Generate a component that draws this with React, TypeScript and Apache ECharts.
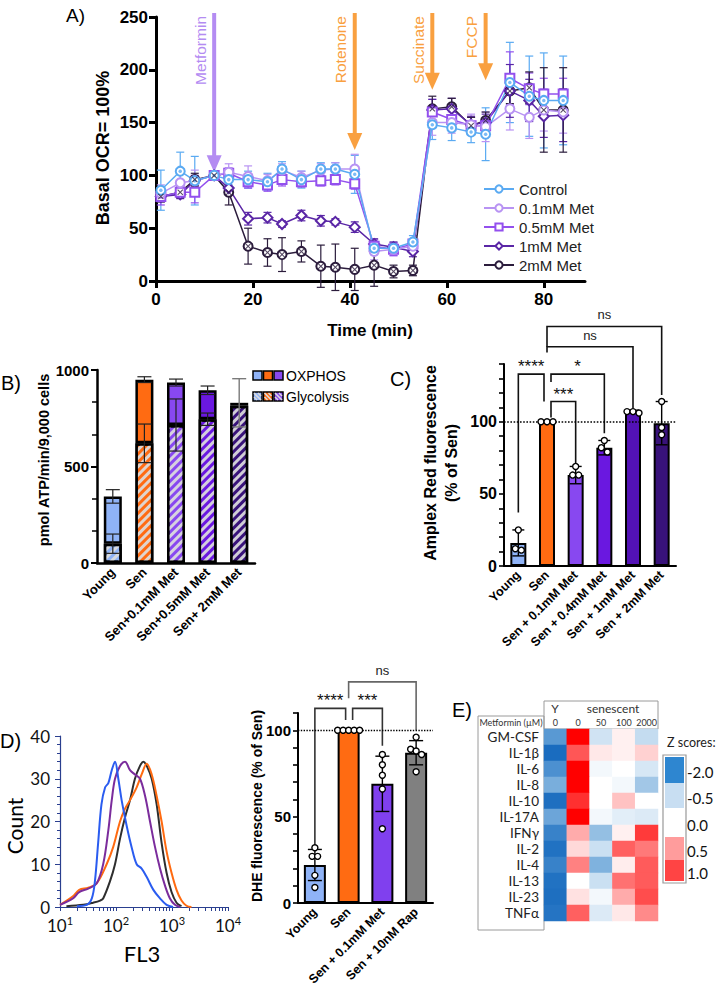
import React, { useEffect, useRef } from "react";
import * as echarts from "echarts";

const BOLD = "'Liberation Sans', Arial, Helvetica, sans-serif";
const CAL = "Lato, 'Open Sans', 'DejaVu Sans', sans-serif";

// ---------------- Panel A ----------------
const timeMin = [1, 5, 8, 12, 15, 19, 23, 26, 30, 34, 37, 41, 45, 49, 53, 57, 61, 65, 68, 73, 77, 80, 84];
const ocrNames = ["Control", "0.1mM Met", "0.5mM Met", "1mM Met", "2mM Met"];
const ocrControl = [86, 104, 95, 100, 96, 96, 94, 106, 96, 106, 106, 101, 31, 31, 37, 148, 145, 141, 139, 188, 175, 171, 171];
const ocrMet01 = [83, 93, 95, 100, 103, 99, 95, 105, 98, 105, 106, 106, 28, 30, 33, 150, 150, 148, 146, 163, 155, 162, 160];
const ocrMet05 = [80, 84, 84, 100, 102, 94, 91, 96, 94, 95, 96, 92, 33, 30, 35, 160, 153, 147, 147, 192, 182, 177, 177];
const ocrMet1 = [80, 82, 95, 100, 88, 59, 60, 54, 62, 57, 56, 51, 35, 32, 28, 162, 163, 148, 150, 180, 171, 156, 157];
const ocrMet2 = [80, 84, 96, 100, 84, 33, 27, 25, 28, 14, 13, 11, 15, 9, 10, 163, 165, 147, 152, 180, 183, 162, 162];
const errControl = [19, 18, 23, 0, 5, 8, 8, 7, 8, 6, 6, 18, 6, 5, 6, 14, 12, 10, 25, 38, 38, 45, 42];
const errMet01 = [8, 10, 10, 0, 8, 10, 6, 6, 6, 6, 6, 14, 8, 6, 6, 12, 10, 10, 14, 20, 20, 20, 20];
const errMet05 = [8, 5, 10, 0, 5, 6, 6, 6, 5, 5, 5, 5, 6, 6, 5, 12, 10, 8, 8, 25, 15, 15, 15];
const errMet1 = [5, 4, 5, 0, 6, 6, 5, 3, 5, 5, 3, 5, 5, 5, 5, 10, 10, 8, 8, 25, 20, 20, 25];
const errMet2 = [5, 5, 6, 0, 12, 17, 13, 16, 10, 20, 22, 20, 20, 6, 5, 12, 8, 8, 8, 12, 15, 40, 40];
const timeTicks = [0, 20, 40, 60, 80];
const injectionLabels = ["Metformin", "Rotenone", "Succinate", "FCCP"];
const injectionTimes = [12, 41, 57, 68];
const injectionTipValues = [103, 124, 181, 190];

// ---------------- Panel B ----------------
const atpCategories = ["Young", "Sen", "Sen+0.1mM Met", "Sen+0.5mM Met", "Sen+ 2mM Met"];
const atpTotal = [345, 950, 935, 895, 830];
const atpGlyco = [100, 620, 715, 745, 815];
const atpTotalErr = [35, 15, 18, 22, 125];
const atpGlycoErr = [50, 100, 135, 32, 0];

// ---------------- Panel C ----------------
const amplexCategories = ["Young", "Sen", "Sen + 0.1mM Met", "Sen + 0.4mM Met", "Sen + 1mM Met", "Sen + 2mM Met"];
const amplexMean = [16, 100, 63, 82, 107, 99];
const amplexSd = [9, 0, 6, 5, 1, 15];
const amplexPoints = [[25, 12, 11], [100, 100, 100], [69, 63, 63], [87, 82, 79], [106, 107, 107], [114, 96, 91]];
const amplexBrackets = [
  { a: 0, b: 1, top: 133, endA: 37, endB: 114, label: "****" },
  { a: 1, b: 2, top: 114, endA: 103, endB: 71, label: "***" },
  { a: 1, b: 3, top: 133, endA: 127.5, endB: 92, label: "*" },
  { a: 1, b: 4, top: 152, endA: 148, endB: 109, label: "ns" },
  { a: 1, b: 5, top: 166, endA: 152, endB: 118.5, label: "ns" },
];

// ---------------- Panel D (histogram) ----------------
const histBlue = [[20, 0.2], [30, 0.5], [37, 2], [42, 6], [48, 15], [55, 24], [64, 28], [73, 29], [84, 32], [96, 34], [110, 30], [126, 25], [155, 19], [190, 14], [234, 10], [287, 9], [354, 7], [465, 4], [611, 2], [800, 0.5], [1047, 0]];
const histPurple = [[10, 0.5], [17, 2], [22, 3.5], [32, 4.3], [45, 5.5], [59, 10], [73, 18], [84, 25], [96, 30], [118, 33], [145, 34], [178, 32], [218, 31], [268, 30], [330, 26], [405, 20], [498, 14], [611, 9], [750, 5], [920, 2], [1130, 0.5], [1390, 0]];
const histOrange = [[10, 0.5], [17, 2.5], [22, 4], [32, 4.5], [45, 5.5], [68, 10], [89, 14], [118, 20], [145, 23], [178, 25], [234, 28], [287, 31], [354, 33.5], [434, 31], [532, 26], [652, 20], [800, 13], [981, 8], [1205, 4], [1478, 1.5], [1813, 0.3], [2226, 0]];
const histBlack = [[13, 0.2], [26, 0.5], [39, 1], [52, 1.5], [59, 2], [78, 6], [96, 10], [118, 16], [145, 21], [178, 25], [218, 30], [268, 33], [308, 34], [354, 33], [434, 30], [532, 24], [652, 15], [800, 8], [981, 3.5], [1205, 1], [1478, 0.2]];
const flDecades = [10, 100, 1000, 10000];
const flMinorTicks = [10, 20, 30, 40, 50, 60, 70, 80, 90, 100, 200, 300, 400, 500, 600, 700, 800, 900, 1000, 2000, 3000, 4000, 5000, 6000, 7000, 8000, 9000, 10000];

// ---------------- Panel D (bars) ----------------
const dheCategories = ["Young", "Sen", "Sen + 0.1mM Met", "Sen + 10nM Rap"];
const dheMean = [22, 100, 69, 87];
const dheSd = [9, 0, 16, 7];
const dhePoints = [[32, 27, 27, 16, 9], [100, 100, 100, 100, 100], [86, 80, 74, 66, 43], [96, 89, 88, 86, 76]];
const dheBrackets = [
  { a: 0, b: 1, top: 112.7, endA: 33.5, endB: 106, label: "****" },
  { a: 1, b: 2, top: 112.7, endA: 106, endB: 91, label: "***" },
  { a: 1, b: 3, top: 128, endA: 118.5, endB: 100, label: "ns" },
];

// ---------------- Panel E ----------------
const cytokines = ["GM-CSF", "IL-1β", "IL-6", "IL-8", "IL-10", "IL-17A", "IFNγ", "IL-2", "IL-4", "IL-13", "IL-23", "TNFα"];
const heatColumns = ["Y 0", "Sen 0", "Sen 50", "Sen 100", "Sen 2000"];
const metforminDoses = ["0", "0", "50", "100", "2000"];
const zScores = [
  [-1.3, 2.0, -0.4, 0.1, -0.5],
  [-2.0, 1.1, 0.15, 0.1, 0.3],
  [-1.4, 2.0, -0.1, 0.0, -0.35],
  [-1.05, 2.0, 0.0, -0.1, -0.75],
  [-1.95, 1.5, 0.0, 0.4, 0.0],
  [-1.15, 2.0, -0.1, -0.25, -0.3],
  [-1.6, 0.55, -0.85, 0.1, 1.4],
  [-1.9, 0.25, -0.45, 1.0, 0.85],
  [-1.6, 0.8, -1.0, 0.12, 1.05],
  [-1.9, 0.0, -0.45, 0.9, 1.05],
  [-1.95, 0.2, -0.1, 0.55, 1.2],
  [-1.85, 1.0, -0.3, 0.15, 0.75],
];
const zLegendLabels = ["-2.0", "-0.5", "0.0", "0.5", "1.0"];

// ---------------- colours ----------------
const ocrColors = ["#5aaaf2", "#b893f3", "#9350ee", "#5a26a6", "#2b1c3c"];
const groupColors = { young: "#8fb3f7", sen: "#ff6b12", m01: "#8848f0", m04: "#6a18e0", m1: "#5312b6", m2: "#38127a", rap: "#808080" };
const atpColors = [groupColors.young, groupColors.sen, groupColors.m01, groupColors.m04, groupColors.m2];
const amplexColors = [groupColors.young, groupColors.sen, groupColors.m01, groupColors.m04, groupColors.m1, groupColors.m2];
const dheColors = [groupColors.young, groupColors.sen, "#8040ee", groupColors.rap];
const heatScale = ["#1a6cbf", "#3f88cc", "#7fb2de", "#c4dcf0", "#ffffff", "#ffb3b3", "#ff6060", "#ff3030", "#ff0000"];
const zLegendColors = ["#2e86d0", "#c8def2", "#ffffff", "#ff9c9c", "#ff4444"];

const hatch = {
  symbol: "rect",
  symbolSize: 1,
  color: "rgba(222,222,222,0.92)",
  dashArrayX: [1, 0],
  dashArrayY: [3, 3],
  rotation: -Math.PI / 4,
};

function errorSeries(idx: number, data: number[][], color: string, cap: number, width: number, z: number) {
  return {
    type: "custom",
    xAxisIndex: idx,
    yAxisIndex: idx,
    z,
    silent: true,
    data,
    encode: { x: 0, y: [1, 2] },
    renderItem: (_p: any, api: any) => {
      const x = api.value(0);
      const hi = api.coord([x, api.value(2)]);
      const lo = api.coord([x, api.value(1)]);
      const st = { stroke: color, lineWidth: width };
      return {
        type: "group",
        children: [
          { type: "line", shape: { x1: hi[0], y1: hi[1], x2: lo[0], y2: lo[1] }, style: st },
          { type: "line", shape: { x1: hi[0] - cap, y1: hi[1], x2: hi[0] + cap, y2: hi[1] }, style: st },
          { type: "line", shape: { x1: lo[0] - cap, y1: lo[1], x2: lo[0] + cap, y2: lo[1] }, style: st },
        ],
      };
    },
  };
}

function dotSeries(idx: number, pts: number[][], spread: number, tol: number) {
  const data: number[][] = [];
  pts.forEach((vals, cat) => {
    const s = vals.slice().sort((a, b) => b - a);
    let i = 0;
    while (i < s.length) {
      let j = i;
      while (j + 1 < s.length && s[i] - s[j + 1] <= tol) j++;
      const k = j - i + 1;
      for (let m = i; m <= j; m++) data.push([cat, s[m], (m - i - (k - 1) / 2) * spread]);
      i = j + 1;
    }
  });
  return {
    type: "custom",
    xAxisIndex: idx,
    yAxisIndex: idx,
    z: 6,
    silent: true,
    data,
    encode: { x: 0, y: 1 },
    renderItem: (_p: any, api: any) => {
      const p = api.coord([api.value(0), api.value(1)]);
      return { type: "circle", shape: { cx: p[0] + api.value(2), cy: p[1], r: 3 }, style: { fill: "#fff", stroke: "#000", lineWidth: 1.4 } };
    },
  };
}

function buildOption() {
  const ocrData = [ocrControl, ocrMet01, ocrMet05, ocrMet1, ocrMet2];
  const ocrErr = [errControl, errMet01, errMet05, errMet1, errMet2];
  const symbols = ["emptyCircle", "emptyCircle", "emptyRect", "emptyDiamond", "emptyCircle"];
  const series: any[] = [];

  ocrData.forEach((vals, s) => {
    const d = vals.map((v, i) => [timeMin[i], v - ocrErr[s][i], v + ocrErr[s][i]]).filter((r) => r[2] > r[1]);
    series.push(errorSeries(0, d, ocrColors[s], 4, 1.2, 1));
  });
  [4, 3, 2, 1, 0].forEach((s) => {
    series.push({
      type: "line",
      name: ocrNames[s],
      xAxisIndex: 0,
      yAxisIndex: 0,
      z: 3,
      symbol: symbols[s],
      symbolSize: s === 3 ? 10 : 9,
      showAllSymbol: true,
      lineStyle: { color: ocrColors[s], width: 1.5 },
      itemStyle: { color: ocrColors[s], borderColor: ocrColors[s], borderWidth: 1.5 },
      data: ocrData[s].map((v, i) => [timeMin[i], v]),
    });
  });
  series.push({
    type: "scatter",
    xAxisIndex: 0,
    yAxisIndex: 0,
    z: 4,
    silent: true,
    symbol: "circle",
    symbolSize: 3.5,
    itemStyle: { color: ocrColors[0] },
    data: ocrControl.map((v, i) => [timeMin[i], v]),
  });
  series.push({
    type: "scatter",
    xAxisIndex: 0,
    yAxisIndex: 0,
    z: 4,
    silent: true,
    symbol: "path://M-3,-4L0,-1L3,-4L4,-3L1,0L4,3L3,4L0,1L-3,4L-4,3L-1,0L-4,-3Z",
    symbolSize: 6,
    itemStyle: { color: ocrColors[4] },
    data: ocrMet2.map((v, i) => [timeMin[i], v]),
  });

  series.push({
    type: "bar",
    name: "Glycolysis",
    xAxisIndex: 1,
    yAxisIndex: 1,
    stack: "atp",
    barWidth: 18,
    z: 2,
    data: atpGlyco.map((v, i) => ({ value: v, itemStyle: { color: atpColors[i], borderColor: "#000", borderWidth: 2.5, decal: hatch } })),
  });
  series.push({
    type: "bar",
    name: "OXPHOS",
    xAxisIndex: 1,
    yAxisIndex: 1,
    stack: "atp",
    barWidth: 18,
    z: 2,
    data: atpTotal.map((t, i) => ({ value: t - atpGlyco[i], itemStyle: { color: atpColors[i], borderColor: "#000", borderWidth: 2.5 } })),
  });
  series.push(errorSeries(1, atpTotal.map((t, i) => [i, t - atpTotalErr[i], t + atpTotalErr[i]]).slice(0, 4), "#222", 7, 1.2, 5));
  series.push(errorSeries(1, [[4, atpTotal[4] - atpTotalErr[4], atpTotal[4] + atpTotalErr[4]]], "#7a7a7a", 7, 1.4, 5));
  series.push(errorSeries(1, atpGlyco.map((g, i) => [i, g - atpGlycoErr[i], g + atpGlycoErr[i]]).filter((r) => r[2] > r[1]), "#222", 7, 1.2, 5));

  series.push({
    type: "bar",
    xAxisIndex: 2,
    yAxisIndex: 2,
    barWidth: 16,
    z: 2,
    data: amplexMean.map((v, i) => ({ value: v, itemStyle: { color: amplexColors[i], borderColor: "#000", borderWidth: 2 } })),
    markLine: {
      silent: true,
      symbol: ["none", "none"],
      label: { show: false },
      lineStyle: { type: "dotted", color: "#000", width: 1.6 },
      data: [{ yAxis: 100 }],
    },
  });
  series.push(errorSeries(2, amplexMean.map((m, i) => [i, m - amplexSd[i], m + amplexSd[i]]).filter((r) => r[2] > r[1]), "#000", 6, 1.4, 5));
  series.push(dotSeries(2, amplexPoints, 6, 4));

  const histSets = [histBlack, histOrange, histPurple, histBlue];
  const histColors = ["#2e2e2e", "#ff6a10", "#7b2c9c", "#2a5cf0"];
  histSets.forEach((d, i) => {
    series.push({
      type: "line",
      xAxisIndex: 3,
      yAxisIndex: 3,
      showSymbol: false,
      smooth: 0.35,
      z: 3,
      lineStyle: { color: histColors[i], width: 2 },
      data: d,
    });
  });

  series.push({
    type: "bar",
    xAxisIndex: 4,
    yAxisIndex: 4,
    barWidth: 22,
    z: 2,
    data: dheMean.map((v, i) => ({ value: v, itemStyle: { color: dheColors[i], borderColor: "#000", borderWidth: 2 } })),
    markLine: {
      silent: true,
      symbol: ["none", "none"],
      label: { show: false },
      lineStyle: { type: "dotted", color: "#000", width: 1.4 },
      data: [{ yAxis: 100 }],
    },
  });
  series.push(errorSeries(4, dheMean.map((m, i) => [i, m - dheSd[i], m + dheSd[i]]).filter((r) => r[2] > r[1]), "#000", 7, 1.4, 5));
  series.push(dotSeries(4, dhePoints, 5.5, 4));

  const heatData: number[][] = [];
  zScores.forEach((row, r) => row.forEach((v, c) => heatData.push([c, r, v])));
  const heatIndex = series.length;
  series.push({ type: "heatmap", xAxisIndex: 5, yAxisIndex: 5, data: heatData, silent: true, itemStyle: { borderWidth: 0 } });

  const boldLabel = (size: number) => ({ fontFamily: BOLD, fontWeight: "bold" as const, fontSize: size, color: "#000" });

  return {
    animation: false,
    backgroundColor: "#fff",
    legend: {
      data: ocrNames,
      orient: "vertical",
      left: 478,
      top: 176,
      itemWidth: 30,
      itemHeight: 9,
      itemGap: 3,
      textStyle: { fontFamily: BOLD, fontSize: 15, color: "#222", lineHeight: 16 },
    },
    visualMap: {
      show: false,
      seriesIndex: heatIndex,
      min: -2,
      max: 2,
      inRange: { color: heatScale },
    },
    grid: [
      { left: 156, top: 17, width: 429, height: 264 },
      { left: 97, top: 370, width: 158, height: 193 },
      { left: 504, top: 364, width: 172, height: 202 },
      { left: 60, top: 736, width: 168, height: 171 },
      { left: 298, top: 713, width: 135, height: 190 },
      { left: 544, top: 729, width: 114, height: 192 },
    ],
    xAxis: [
      {
        gridIndex: 0,
        type: "value",
        min: 0,
        max: 88.5,
        splitLine: { show: false },
        axisLine: { lineStyle: { color: "#000", width: 3 } },
        axisTick: { customValues: timeTicks, length: 7, lineStyle: { color: "#000", width: 3 } },
        axisLabel: { customValues: timeTicks, margin: 10, ...boldLabel(17) },
      },
      {
        gridIndex: 1,
        type: "category",
        data: atpCategories,
        axisLine: { lineStyle: { color: "#000", width: 2.5 } },
        axisTick: { alignWithLabel: true, length: 5, lineStyle: { color: "#000", width: 2 } },
        axisLabel: { rotate: 45, margin: 7, interval: 0, ...boldLabel(13) },
      },
      {
        gridIndex: 2,
        type: "category",
        data: amplexCategories,
        axisLine: { lineStyle: { color: "#000", width: 2 } },
        axisTick: { alignWithLabel: true, length: 5, lineStyle: { color: "#000", width: 1.6 } },
        axisLabel: { rotate: 45, margin: 7, interval: 0, ...boldLabel(12.5) },
      },
      {
        gridIndex: 3,
        type: "log",
        logBase: 10,
        min: 10,
        max: 10000,
        splitLine: { show: false },
        axisLine: { lineStyle: { color: "#2a3f8f", width: 1.2 } },
        axisTick: { customValues: flMinorTicks, length: 4, lineStyle: { color: "#2a3f8f", width: 1 } },
        axisLabel: {
          customValues: flDecades,
          margin: 8,
          fontFamily: CAL,
          fontSize: 17,
          color: "#111",
          formatter: (v: number) => "10{s|" + Math.round(Math.log10(v)) + "}",
          rich: { s: { fontFamily: CAL, fontSize: 11, color: "#111", verticalAlign: "top", padding: [0, 0, 9, 0] } },
        },
      },
      {
        gridIndex: 4,
        type: "category",
        data: dheCategories,
        axisLine: { lineStyle: { color: "#000", width: 2 } },
        axisTick: { alignWithLabel: true, length: 5, lineStyle: { color: "#000", width: 1.6 } },
        axisLabel: { rotate: 45, margin: 7, interval: 0, ...boldLabel(12.5) },
      },
      {
        gridIndex: 5,
        type: "category",
        data: heatColumns,
        show: false,
      },
    ],
    yAxis: [
      {
        gridIndex: 0,
        type: "value",
        min: 0,
        max: 250,
        interval: 50,
        splitLine: { show: false },
        axisLine: { show: true, lineStyle: { color: "#000", width: 3 } },
        axisTick: { show: true, length: 7, lineStyle: { color: "#000", width: 3 } },
        axisLabel: { margin: 8, ...boldLabel(17) },
      },
      {
        gridIndex: 1,
        type: "value",
        min: 0,
        max: 1000,
        interval: 500,
        splitLine: { show: false },
        axisLine: { show: true, lineStyle: { color: "#000", width: 2.5 } },
        axisTick: { show: true, length: 6, lineStyle: { color: "#000", width: 2 } },
        minorTick: { show: true, splitNumber: 3, length: 5, lineStyle: { color: "#000", width: 1.5 } },
        minorSplitLine: { show: false },
        axisLabel: { margin: 8, formatter: (v: number) => String(v), ...boldLabel(15) },
      },
      {
        gridIndex: 2,
        type: "value",
        min: 0,
        max: 140,
        interval: 10,
        splitLine: { show: false },
        axisLine: { show: true, lineStyle: { color: "#000", width: 2 } },
        axisTick: { show: true, length: 5, lineStyle: { color: "#000", width: 1.6 } },
        axisLabel: { margin: 7, formatter: (v: number) => (v % 50 === 0 ? String(v) : ""), ...boldLabel(16) },
      },
      {
        gridIndex: 3,
        type: "value",
        min: 0,
        max: 40,
        interval: 10,
        splitLine: { show: false },
        axisLine: { show: true, lineStyle: { color: "#2a3f8f", width: 1.2 } },
        axisTick: { show: true, length: 5, lineStyle: { color: "#2a3f8f", width: 1 } },
        minorTick: { show: true, splitNumber: 5, length: 3, lineStyle: { color: "#2a3f8f", width: 1 } },
        minorSplitLine: { show: false },
        axisLabel: { margin: 10, fontFamily: CAL, fontSize: 17, color: "#111" },
      },
      {
        gridIndex: 4,
        type: "value",
        min: 0,
        max: 110,
        interval: 10,
        splitLine: { show: false },
        axisLine: { show: true, lineStyle: { color: "#000", width: 2 } },
        axisTick: { show: true, length: 5, lineStyle: { color: "#000", width: 1.6 } },
        axisLabel: { margin: 7, formatter: (v: number) => (v % 50 === 0 ? String(v) : ""), ...boldLabel(15) },
      },
      {
        gridIndex: 5,
        type: "category",
        data: cytokines,
        inverse: true,
        axisLine: { show: false },
        axisTick: { show: false },
        axisLabel: { interval: 0, margin: 5, fontFamily: CAL, fontSize: 13.5, color: "#222" },
      },
    ],
    series,
  };
}

function buildGraphics(chart: any) {
  const g: any[] = [];
  const pt = (grid: number, x: number, y: number) => chart.convertToPixel({ gridIndex: grid }, [x, y]) as number[];
  const text = (x: number, y: number, t: string, o: any = {}) =>
    g.push({
      type: "text",
      x,
      y,
      rotation: o.rotation || 0,
      silent: true,
      style: {
        text: t,
        fill: o.fill || "#000",
        fontFamily: o.fontFamily || BOLD,
        fontSize: o.fontSize || 14,
        fontWeight: o.fontWeight || "normal",
        align: o.align || "left",
        textAlign: o.align || "left",
        verticalAlign: o.verticalAlign || "middle",
        textVerticalAlign: o.verticalAlign || "middle",
      },
    });

  text(66, 15, "A)", { fontSize: 19 });
  text(1, 383, "B)", { fontSize: 20 });
  text(390, 379, "C)", { fontSize: 20 });
  text(0, 741, "D)", { fontSize: 20 });
  text(452, 710, "E)", { fontSize: 20 });

  text(103, 148, "Basal OCR= 100%", { fontSize: 18, fontWeight: "bold", rotation: Math.PI / 2, align: "center" });
  text(370, 330, "Time (min)", { fontSize: 17, fontWeight: "bold", align: "center" });
  text(44, 460, "pmol ATP/min/9,000 cells", { fontSize: 14.5, fontWeight: "bold", rotation: Math.PI / 2, align: "center" });
  text(430, 463, "Amplex Red fluorescence", { fontSize: 16, fontWeight: "bold", rotation: Math.PI / 2, align: "center" });
  text(451, 463, "(% of Sen)", { fontSize: 16, fontWeight: "bold", rotation: Math.PI / 2, align: "center" });
  text(14, 826, "Count", { fontFamily: CAL, fontSize: 21, rotation: Math.PI / 2, align: "center" });
  text(142, 953, "FL3", { fontFamily: CAL, fontSize: 22, align: "center" });
  text(257, 806, "DHE fluorescence (% of Sen)", { fontSize: 14, fontWeight: "bold", rotation: Math.PI / 2, align: "center" });

  injectionLabels.forEach((lab, i) => {
    const color = i === 0 ? "#b48cf2" : "#f9a040";
    const x = pt(0, injectionTimes[i], 0)[0];
    const tipY = pt(0, 0, injectionTipValues[i])[1];
    g.push({ type: "line", silent: true, shape: { x1: x, y1: 13, x2: x, y2: tipY - 14 }, style: { stroke: color, lineWidth: 4 } });
    g.push({ type: "polygon", silent: true, shape: { points: [[x - 7.5, tipY - 17], [x + 7.5, tipY - 17], [x, tipY]] }, style: { fill: color } });
    text(x - 14, 16, lab, { fill: color, fontSize: 15.5, rotation: Math.PI / 2, align: "right" });
  });

  const swatch = [groupColors.young, groupColors.sen, groupColors.m01];
  swatch.forEach((c, i) => {
    const x = 253 + i * 10.5;
    g.push({ type: "rect", silent: true, shape: { x, y: 371, width: 9, height: 9 }, style: { fill: c, stroke: "#000", lineWidth: 1.5 } });
    g.push({ type: "rect", silent: true, shape: { x, y: 392, width: 9, height: 9 }, style: { fill: c, stroke: "#000", lineWidth: 1.5 } });
    g.push({ type: "line", silent: true, shape: { x1: x + 1, y1: 393, x2: x + 8, y2: 400 }, style: { stroke: "#ddd", lineWidth: 1.6 } });
    g.push({ type: "line", silent: true, shape: { x1: x + 5, y1: 393, x2: x + 8, y2: 396 }, style: { stroke: "#ddd", lineWidth: 1.4 } });
    g.push({ type: "line", silent: true, shape: { x1: x + 1, y1: 397, x2: x + 4, y2: 400 }, style: { stroke: "#ddd", lineWidth: 1.4 } });
  });
  text(286, 376, "OXPHOS", { fontSize: 14 });
  text(286, 397, "Glycolysis", { fontSize: 14 });

  const brackets = (grid: number, list: any[], color: string, nsColor: string) => {
    list.forEach((b) => {
      const stars = b.label.indexOf("*") >= 0;
      const off = (cat: number, other: number) => (cat === 1 && stars ? (other < cat ? -3 : 4) : 0);
      const xa = pt(grid, b.a, 0)[0] + off(b.a, b.b);
      const xb = pt(grid, b.b, 0)[0] + off(b.b, b.a);
      const yt = pt(grid, 0, b.top)[1];
      const ya = pt(grid, 0, b.endA)[1];
      const yb = pt(grid, 0, b.endB)[1];
      const col = stars ? color : nsColor;
      g.push({ type: "polyline", silent: true, shape: { points: [[xa, ya], [xa, yt], [xb, yt], [xb, yb]] }, style: { stroke: col, lineWidth: 1.6, fill: "none" } });
      if (stars) text((xa + xb) / 2, yt + 1, b.label, { fontSize: 17, align: "center", verticalAlign: "bottom", fill: "#111" });
      else text((xa + xb) / 2, yt - 5, b.label, { fontSize: 13, align: "center", verticalAlign: "bottom", fill: "#222" });
    });
  };
  brackets(2, amplexBrackets, "#111", "#111");
  brackets(4, dheBrackets, "#333", "#666");

  g.push({ type: "rect", silent: true, shape: { x: 544, y: 701, width: 114, height: 28 }, style: { fill: "none", stroke: "#9a9a9a", lineWidth: 1 } });
  g.push({ type: "rect", silent: true, shape: { x: 478, y: 716, width: 66, height: 214 }, style: { fill: "none", stroke: "#9a9a9a", lineWidth: 1 } });
  text(511, 722, "Metformin (µM)", { fontFamily: CAL, fontSize: 9, align: "center", fill: "#333" });
  text(555, 708, "Y", { fontFamily: CAL, fontSize: 12, align: "center", fill: "#333" });
  text(613, 708, "senescent", { fontFamily: CAL, fontSize: 12, align: "center", fill: "#333" });
  metforminDoses.forEach((d, i) => {
    const x = pt(5, i, 0)[0];
    text(x, 722, d, { fontFamily: CAL, fontSize: 9, align: "center", fill: "#333" });
  });

  text(667, 742, "Z scores:", { fontFamily: CAL, fontSize: 12.5, fill: "#222" });
  g.push({ type: "rect", silent: true, shape: { x: 663, y: 755, width: 23, height: 128 }, style: { fill: "#fff", stroke: "#999", lineWidth: 1.2 } });
  const bounds = [757, 783, 808, 837, 860, 881];
  zLegendColors.forEach((c, i) => {
    g.push({ type: "rect", silent: true, shape: { x: 665, y: bounds[i], width: 19, height: bounds[i + 1] - bounds[i] }, style: { fill: c } });
    text(687, (bounds[i] + bounds[i + 1]) / 2 + 2, zLegendLabels[i], { fontFamily: CAL, fontSize: 15, fill: "#111" });
  });

  return g;
}

export default function App() {
  const ref = useRef<HTMLDivElement>(null);
  useEffect(() => {
    document.body.style.margin = "0";
    const chart = echarts.init(ref.current as HTMLDivElement, null, { renderer: "svg", width: 716, height: 1001 });
    chart.setOption(buildOption() as any);
    chart.setOption({ graphic: buildGraphics(chart) } as any);
    return () => chart.dispose();
  }, []);
  return <div ref={ref} style={{ position: "absolute", left: 0, top: 0, width: 716, height: 1001, background: "#fff" }} />;
}
